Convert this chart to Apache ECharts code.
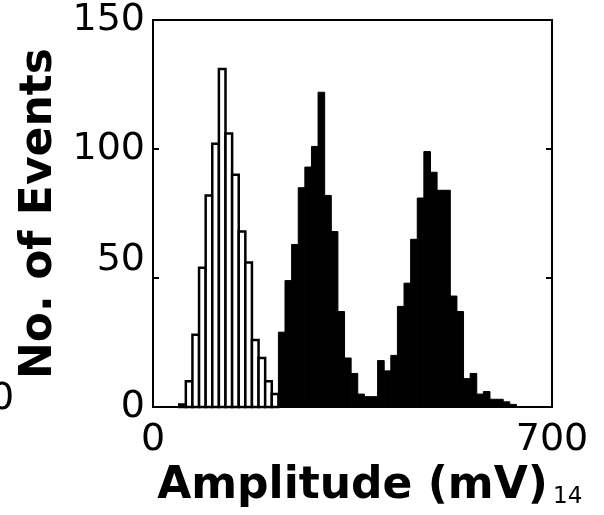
<!DOCTYPE html>
<html>
<head>
<meta charset="utf-8">
<script src="https://cdn.jsdelivr.net/npm/echarts@6/dist/echarts.min.js"></script>
<style>
html,body{margin:0;padding:0;background:#fff}
#main{width:604px;height:515px}
</style>
</head>
<body>
<div id="main"></div>
<script>
// histogram bins (mV)
var binStart = 46;
var binWidth = 11.6;
// open bars (first population), starting at bin 0
var whiteCounts = [1, 10, 28, 54, 82, 102, 131, 106, 90, 68, 56, 26, 19, 10, 5];
// filled bars, starting at bin 13
var blackFirstBin = 13;
var blackCounts = [3, 5, 29, 49, 63, 85, 93, 101, 122, 82, 68, 37, 19, 13, 5, 4, 4,
                   18, 14, 20, 39, 48, 65, 81, 99, 91, 84, 84, 43, 37, 11, 13, 5, 6, 3, 3, 2, 1];
var xTicks = [0, 700];
var yTicks = [0, 50, 100, 150];

function toBins(counts, first) {
  var out = [];
  for (var i = 0; i < counts.length; i++) {
    var lo = binStart + (first + i) * binWidth;
    out.push([lo, lo + binWidth, counts[i]]);
  }
  return out;
}

//一根根画柱子
function histItem(fill, stroke, lw) {
  return function (params, api) {
    var p0 = api.coord([api.value(0), api.value(2)]);
    var p1 = api.coord([api.value(1), 0]);
    return {
      type: 'rect',
      shape: {x: p0[0], y: p0[1], width: p1[0] - p0[0], height: p1[1] - p0[1]},
      style: {fill: fill, stroke: stroke, lineWidth: lw}
    };
  };
}

var font = 'DejaVu Sans';
var myChart = echarts.init(document.getElementById('main'));
var option = {
  backgroundColor: '#fff',
  animation: false,
  grid: {left: 153, right: 52, top: 20, bottom: 108, show: true, borderColor: '#000', borderWidth: 2},
  xAxis: [{
    type: 'value',
    min: xTicks[0],
    max: xTicks[1],
    interval: xTicks[1] - xTicks[0],
    axisLine: {lineStyle: {color: '#000', width: 2}},
    axisTick: {show: false},
    splitLine: {show: false},
    axisLabel: {color: '#000', fontSize: 38, fontFamily: font, margin: 14},
    name: 'Amplitude (mV)',
    nameLocation: 'middle',
    nameGap: 58,
    nameTextStyle: {color: '#000', fontSize: 44, fontWeight: 'bold', fontFamily: font}
  }],
  yAxis: [{
    type: 'value',
    min: yTicks[0],
    max: yTicks[yTicks.length - 1],
    interval: 50,
    axisLine: {show: true, lineStyle: {color: '#000', width: 2}},
    axisTick: {show: true, inside: true, length: 6, lineStyle: {color: '#000', width: 2}},
    splitLine: {show: false},
    axisLabel: {
      color: '#000', fontSize: 38, fontFamily: font, margin: 8,
      formatter: function (v) { return v === 50 ? '{up|50}' : String(v); },
      rich: {up: {fontSize: 38, fontFamily: font, color: '#000', padding: [0, 0, 36, 0]}}
    },
    name: 'No. of Events',
    nameLocation: 'middle',
    nameGap: 78,
    nameTextStyle: {color: '#000', fontSize: 44, fontWeight: 'bold', fontFamily: font}
  }, {
    type: 'value',
    position: 'right',
    min: yTicks[0],
    max: yTicks[yTicks.length - 1],
    interval: 50,
    axisLine: {show: true, lineStyle: {color: '#000', width: 2}},
    axisTick: {show: true, inside: true, length: 6, lineStyle: {color: '#000', width: 2}},
    axisLabel: {show: false},
    splitLine: {show: false}
  }],
  graphic: [
    {type: 'text', left: -10, top: 380, style: {text: '0', fontSize: 38, fontFamily: font, fill: '#000'}},
    {type: 'text', left: 553, top: 486, style: {text: '14', fontSize: 23, fontFamily: font, fill: '#000'}}
  ],
  series: [{
    type: 'custom',
    renderItem: histItem('#000', '#000', 1),
    encode: {x: [0, 1], y: 2},
    data: toBins(blackCounts, blackFirstBin)
  }, {
    type: 'custom',
    renderItem: histItem('#fff', '#000', 2.5),
    encode: {x: [0, 1], y: 2},
    data: toBins(whiteCounts, 0)
  }]
};
myChart.setOption(option);
</script>
</body>
</html>
